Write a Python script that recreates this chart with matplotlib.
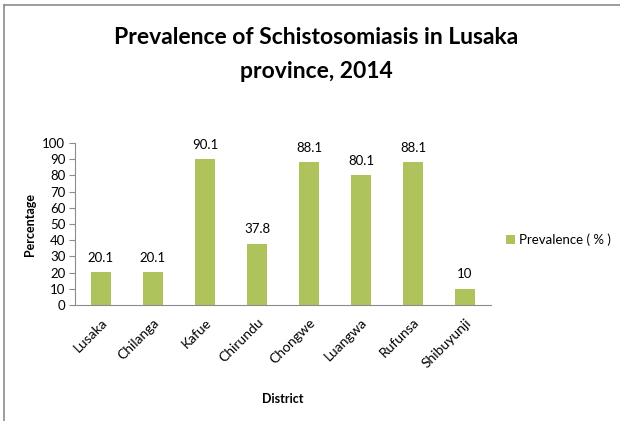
import matplotlib
matplotlib.use('Agg')
import matplotlib.pyplot as plt
from matplotlib.lines import Line2D

districts = ['Lusaka', 'Chilanga', 'Kafue', 'Chirundu', 'Chongwe', 'Luangwa', 'Rufunsa', 'Shibuyunji']
prevalence = [20.1, 20.1, 90.1, 37.8, 88.1, 80.1, 88.1, 10]
yticks = list(range(0, 101, 10))

plt.rcParams['font.family'] = ['Lato', 'DejaVu Sans']
W, H = 620, 421
fig = plt.figure(figsize=(W / 100, H / 100), dpi=100)

# рамка диаграммы (видны только верх и левый край)
fig.add_artist(Line2D([4 / W, 1], [1 - 5 / H, 1 - 5 / H], color='#8c8c8c', lw=1.2))
fig.add_artist(Line2D([4 / W, 4 / W], [0, 1 - 5 / H], color='#8c8c8c', lw=1.2))

ax = fig.add_axes([75 / W, 1 - 305 / H, 416 / W, 162 / H])
bars = ax.bar(range(len(districts)), prevalence, width=0.39, color='#AFC35C',
              label='Prevalence ( % )')
ax.set_xlim(-0.5, len(districts) - 0.5)
ax.set_ylim(0, 100)
ax.set_yticks(yticks)
ax.tick_params(axis='y', labelsize=9.5, length=4, color='#8c8c8c', pad=3)
ax.set_xticks(range(len(districts)))
ax.set_xticklabels(districts, rotation=45, ha='right', rotation_mode='anchor', fontsize=10)
ax.tick_params(axis='x', length=0, pad=8)
for s in ['top', 'right']:
    ax.spines[s].set_visible(False)
ax.spines['left'].set_color('#8c8c8c')
ax.spines['bottom'].set_color('#8c8c8c')

for b, v in zip(bars, prevalence):
    ax.annotate(f'{v:g}', (b.get_x() + b.get_width() / 2, v), xytext=(0, 6),
                textcoords='offset points', ha='center', va='bottom', fontsize=9.5)

ax.set_ylabel('Percentage', fontsize=9, fontweight='bold')
ax.yaxis.set_label_coords(-(75 - 36) / 416, 0.5)
ax.set_xlabel('District', fontsize=9, fontweight='bold')
ax.xaxis.set_label_coords(0.5, -(393 - 305) / 162)

fig.text(316 / W, 1 - 37 / H, 'Prevalence of Schistosomiasis in Lusaka', ha='center', va='center',
         fontsize=16.5, fontweight='bold')
fig.text(316 / W, 1 - 72 / H, 'province, 2014', ha='center', va='center',
         fontsize=16.5, fontweight='bold')

fig.legend(handles=[bars], loc='center left', bbox_to_anchor=(494 / W, 1 - 240 / H),
           frameon=False, fontsize=9.5, handlelength=0.7, handleheight=0.7, handletextpad=0.3)

fig.savefig('out.png', dpi=100)
